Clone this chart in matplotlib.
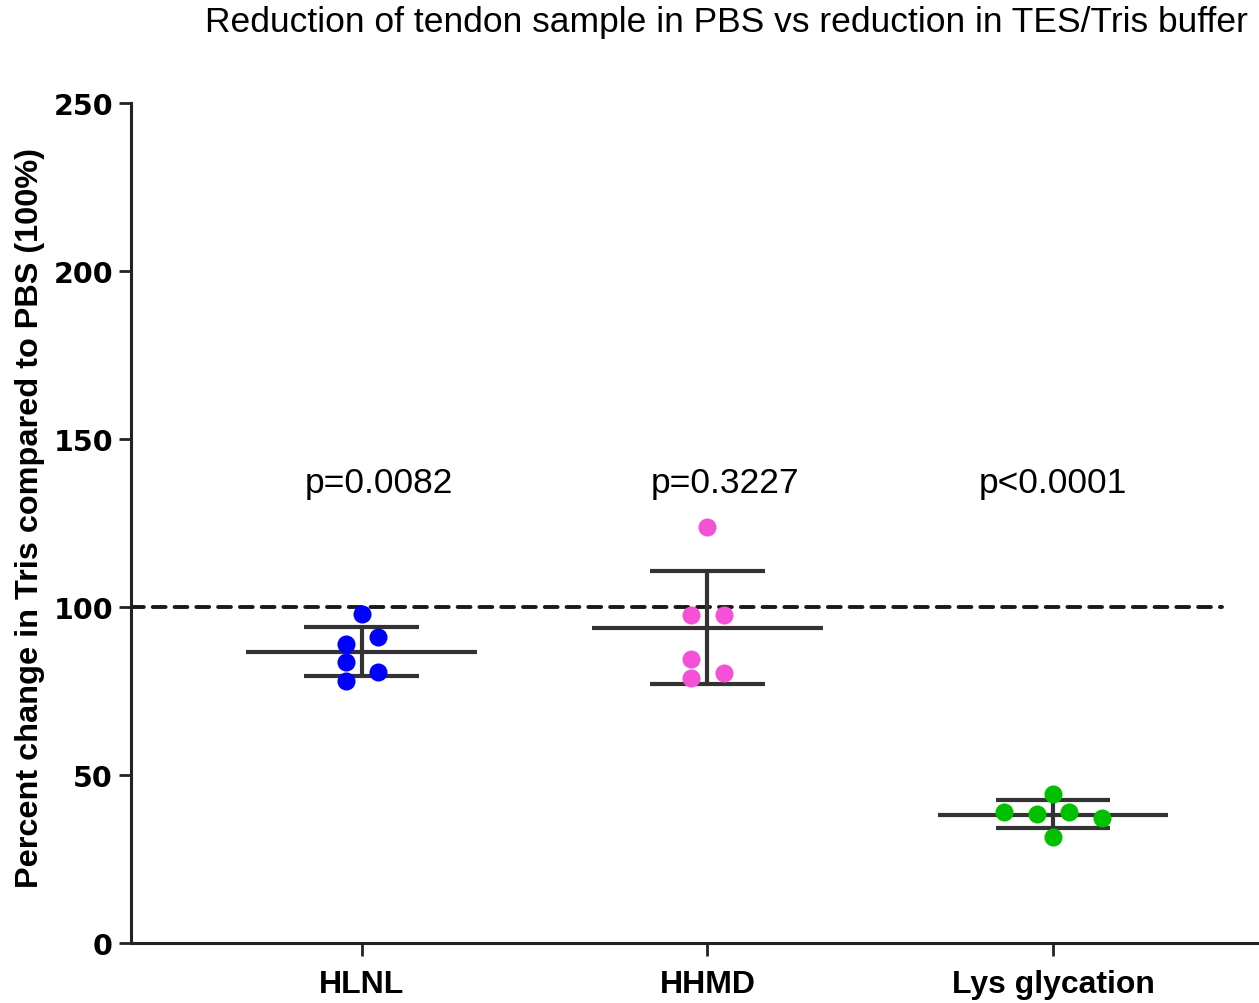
import numpy as np
import matplotlib
matplotlib.use("Agg")
import matplotlib.pyplot as plt

plt.rcParams['font.family'] = ['Liberation Sans', 'DejaVu Sans']

# Данные
groups = ['HLNL', 'HHMD', 'Lys glycation']
colors = ['#0000ff', '#f550d8', '#00c000']
hlnl = [97.9, 89.0, 91.0, 83.5, 80.7, 78.1]
hhmd = [123.7, 97.5, 97.5, 84.5, 80.3, 78.9]
lys = [44.3, 38.9, 38.4, 38.9, 37.3, 31.4]
hlnl_dx = [0.0, -0.047, 0.047, -0.047, 0.047, -0.047]
hhmd_dx = [0.0, -0.047, 0.047, -0.047, 0.047, -0.047]
lys_dx = [0.0, -0.142, -0.047, 0.047, 0.142, 0.0]
means = [86.7, 93.8, 38.2]
err_hi = [94.0, 110.6, 42.5]
err_lo = [79.4, 77.0, 34.1]
p_labels = ['p=0.0082', 'p=0.3227', 'p<0.0001']
p_x = [0.05, 0.05, 0.0]
p_y = 137

fig = plt.figure(figsize=(12.59, 10.04), dpi=100)
ax = fig.add_axes([0.104, 0.0598, 0.896, 0.8366])

line_c = '#333333'
for i, (vals, dx) in enumerate([(hlnl, hlnl_dx), (hhmd, hhmd_dx), (lys, lys_dx)]):
    # среднее и разброс
    ax.plot([i - 0.334, i + 0.334], [means[i]] * 2, color=line_c, lw=3, zorder=2,
            solid_capstyle='butt')
    ax.plot([i - 0.166, i + 0.166], [err_hi[i]] * 2, color=line_c, lw=3, zorder=2,
            solid_capstyle='butt')
    ax.plot([i - 0.166, i + 0.166], [err_lo[i]] * 2, color=line_c, lw=3, zorder=2,
            solid_capstyle='butt')
    ax.plot([i, i], [err_lo[i], err_hi[i]], color=line_c, lw=3, zorder=2,
            solid_capstyle='butt')
    ax.plot(np.array(dx) + i, vals, 'o', color=colors[i], markersize=13,
            markeredgewidth=0, zorder=3)
    ax.text(i + p_x[i], p_y, p_labels[i], ha='center', va='center', fontsize=25.5)

ax.plot([-0.668, 2.49], [100, 100], color='#1a1a1a', lw=2.8, ls=(0, (3.3, 2.3)),
        dash_capstyle='round', zorder=1)

ax.set_xlim(-0.668, 2.596)
ax.set_ylim(0, 250)
ax.set_yticks([0, 50, 100, 150, 200, 250])
ax.set_xticks([0, 1, 2])
ax.set_xticklabels(groups, fontsize=23, fontweight='bold')
for lab in ax.get_yticklabels():
    lab.set_fontsize(20.5)
    lab.set_fontweight('bold')
    lab.set_family('DejaVu Sans')
ax.tick_params(axis='both', length=9, width=2, color='#222222', pad=4)
ax.tick_params(axis='x', pad=10)

for s in ['top', 'right']:
    ax.spines[s].set_visible(False)
for s in ['left', 'bottom']:
    ax.spines[s].set_linewidth(2.2)
    ax.spines[s].set_color('#222222')

ax.set_ylabel('Percent change in Tris compared to PBS (100%)', fontsize=23.4,
              fontweight='bold')
ax.yaxis.set_label_coords(-0.076, 0.507)

fig.text(0.577, 0.978, 'Reduction of tendon sample in PBS vs reduction in TES/Tris buffer',
         ha='center', va='center', fontsize=25.5)

fig.savefig('out.png', dpi=100)
